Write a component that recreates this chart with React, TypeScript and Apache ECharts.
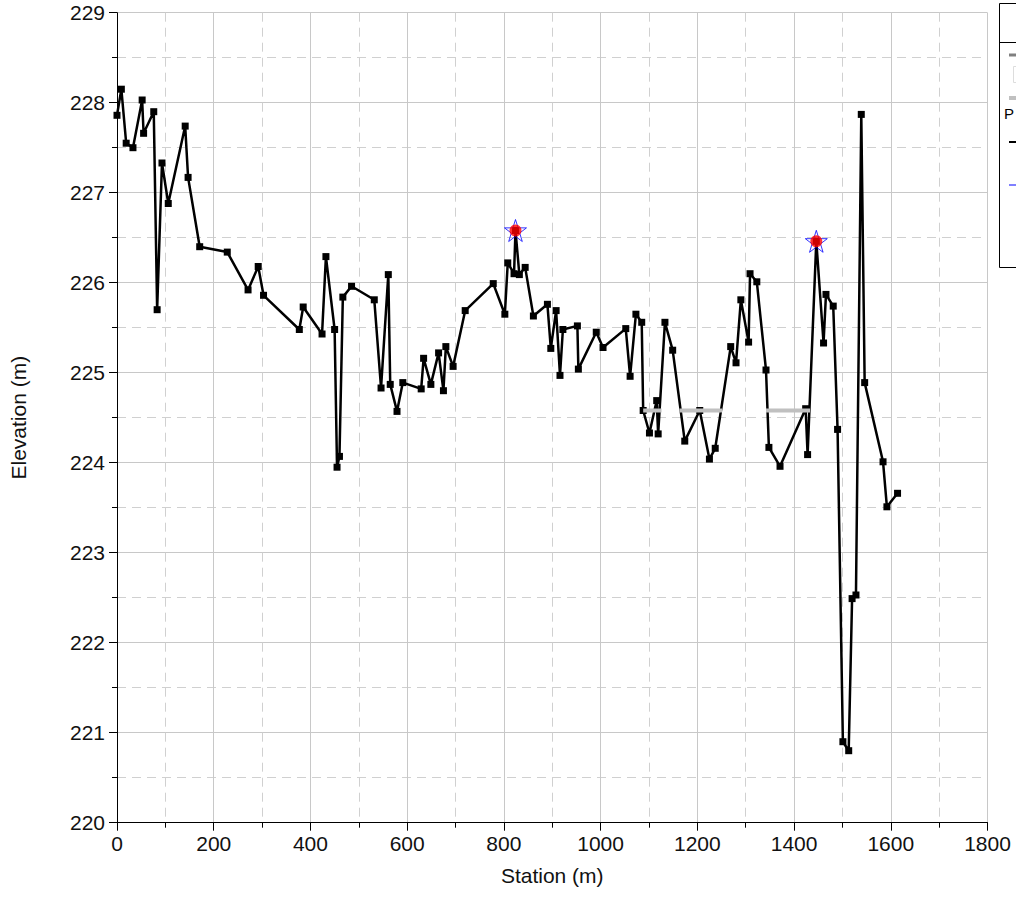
import React, { useEffect, useRef } from "react";
import * as echarts from "echarts";

// Ground profile: station (m) and elevation (m)
const stations: number[] = [
  0, 9, 19, 33, 52, 55, 76, 83, 93, 106, 141, 147, 171, 228, 271, 292, 303, 377, 385, 424,
  432, 450, 455, 460, 467, 485, 532, 546, 561, 565, 579, 591, 629, 634, 649, 665, 675, 680,
  695, 720, 778, 802, 808, 821, 824, 832, 844, 861, 890, 897, 908, 916, 922, 952, 954, 991,
  1005, 1052, 1061, 1073, 1085, 1088, 1101, 1116, 1119, 1133, 1149, 1174, 1205, 1225, 1237,
  1269, 1280, 1290, 1306, 1309, 1323, 1342, 1348, 1371, 1424, 1428, 1446, 1461, 1466, 1481,
  1490, 1501, 1513, 1520, 1528, 1539, 1546, 1584, 1592, 1614,
];
const elevations: number[] = [
  227.86, 228.15, 227.55, 227.5, 228.03, 227.66, 227.9, 225.7, 227.33, 226.88, 227.74, 227.17,
  226.4, 226.34, 225.92, 226.18, 225.86, 225.48, 225.73, 225.43, 226.29, 225.48, 223.95,
  224.07, 225.84, 225.96, 225.81, 224.83, 226.09, 224.87, 224.57, 224.89, 224.82, 225.16,
  224.87, 225.22, 224.8, 225.29, 225.07, 225.69, 225.99, 225.65, 226.22, 226.1, 226.58,
  226.09, 226.17, 225.63, 225.76, 225.27, 225.69, 224.97, 225.48, 225.52, 225.04, 225.45,
  225.28, 225.49, 224.96, 225.65, 225.56, 224.58, 224.33, 224.69, 224.32, 225.56, 225.25,
  224.24, 224.58, 224.04, 224.16, 225.29, 225.11, 225.81, 225.34, 226.1, 226.01, 225.03,
  224.17, 223.96, 224.6, 224.09, 226.46, 225.33, 225.87, 225.74, 224.37, 220.9, 220.8,
  222.49, 222.53, 227.87, 224.89, 224.01, 223.51, 223.66,
];

// Level reaches drawn in light gray
const reachStart: number[] = [1088, 1163, 1342];
const reachEnd: number[] = [1126, 1251, 1433];
const reachElevation = 224.58;

// Highlighted high points
const peakStations: number[] = [824, 1446];
const peakElevations: number[] = [226.58, 226.46];

// Axis ranges and ticks
const xMin = 0;
const xMax = 1800;
const xStep = 200;
const yMin = 220;
const yMax = 229;
const yStep = 1;

const FONT = "'Liberation Sans', Arial, sans-serif";
const FS = 21;
const STAR =
  "path://M50,0 L61.8,36.2 L100,36.2 L69.1,58.6 L80.9,95.1 L50,72.7 L19.1,95.1 L30.9,58.6 L0,36.2 L38.2,36.2 Z";

export default function App() {
  const ref = useRef<HTMLDivElement>(null);

  useEffect(() => {
    if (!ref.current) return;
    const chart = echarts.init(ref.current, null, { renderer: "svg" });

    const ground = stations.map((s, i) => [s, elevations[i]]);
    const peaks = peakStations.map((s, i) => [s, peakElevations[i]]);
    const reaches = reachStart.map((s, i) => [s, reachEnd[i], reachElevation]);

    const gridLine = { color: "#c8c8c8", width: 1 };
    const dashLine = { color: "#d0d0d0", width: 1, type: [9, 6] };
    const plain = (v: number) => String(v);

    const axisCommon = {
      type: "value",
      nameLocation: "middle",
      nameTextStyle: { color: "#111", fontSize: FS, fontFamily: FONT },
      axisLine: { show: true, onZero: false, lineStyle: { color: "#000", width: 1 } },
      axisTick: { show: true, length: 8, lineStyle: { color: "#000" } },
      minorTick: { show: true, splitNumber: 2, length: 5, lineStyle: { color: "#000" } },
      splitLine: { show: true, lineStyle: gridLine },
      minorSplitLine: { show: true, lineStyle: dashLine },
    };

    chart.setOption({
      animation: false,
      backgroundColor: "#ffffff",
      textStyle: { fontFamily: FONT },
      grid: { left: 116.5, top: 12.7, width: 871, height: 810, containLabel: false },
      xAxis: {
        ...axisCommon,
        min: xMin,
        max: xMax,
        interval: xStep,
        name: "Station (m)",
        nameGap: 42,
        axisLabel: { color: "#111", fontSize: FS, margin: 10, fontFamily: FONT, formatter: plain },
      },
      yAxis: {
        ...axisCommon,
        min: yMin,
        max: yMax,
        interval: yStep,
        name: "Elevation (m)",
        nameGap: 88,
        axisLabel: { color: "#111", fontSize: FS, margin: 12, fontFamily: FONT, formatter: plain },
      },
      series: [
        {
          type: "line",
          name: "ground",
          data: ground,
          symbol: "rect",
          symbolSize: 7,
          showAllSymbol: true,
          itemStyle: { color: "#000" },
          lineStyle: { color: "#000", width: 2.5 },
          z: 4,
          silent: true,
        },
        {
          type: "custom",
          name: "reaches",
          data: reaches,
          encode: { x: [0, 1], y: 2 },
          renderItem: (_params: any, api: any) => {
            const a = api.coord([api.value(0), api.value(2)]);
            const b = api.coord([api.value(1), api.value(2)]);
            return {
              type: "line",
              shape: { x1: a[0], y1: a[1], x2: b[0], y2: b[1] },
              style: { stroke: "#c0c0c0", lineWidth: 4 },
            };
          },
          z: 5,
          silent: true,
        },
        {
          type: "scatter",
          data: peaks,
          symbol: STAR,
          symbolSize: 22,
          itemStyle: { color: "rgba(0,0,0,0)", borderColor: "#0000ff", borderWidth: 1 },
          z: 6,
          silent: true,
        },
        {
          type: "scatter",
          data: peaks,
          symbol: "circle",
          symbolSize: 12,
          itemStyle: { color: "#ff0000" },
          z: 7,
          silent: true,
        },
      ],
      graphic: [
        {
          type: "rect",
          shape: { x: 999.5, y: 3.5, width: 60, height: 264 },
          style: { fill: "#ffffff", stroke: "#000", lineWidth: 1 },
        },
        {
          type: "line",
          shape: { x1: 999.5, y1: 42.5, x2: 1060, y2: 42.5 },
          style: { stroke: "#000", lineWidth: 1 },
        },
        {
          type: "line",
          shape: { x1: 1009, y1: 55, x2: 1040, y2: 55 },
          style: { stroke: "#808080", lineWidth: 3 },
        },
        {
          type: "rect",
          shape: { x: 1013.5, y: 66.5, width: 20, height: 16 },
          style: { fill: "#ffffff", stroke: "#dddddd", lineWidth: 1 },
        },
        {
          type: "line",
          shape: { x1: 1009, y1: 98, x2: 1040, y2: 98 },
          style: { stroke: "#c0c0c0", lineWidth: 4 },
        },
        {
          type: "text",
          x: 1004,
          y: 113,
          style: {
            text: "P",
            fill: "#000",
            font: `15px ${FONT}`,
            textVerticalAlign: "middle",
          },
        },
        {
          type: "line",
          shape: { x1: 1009, y1: 142, x2: 1040, y2: 142 },
          style: { stroke: "#000", lineWidth: 2 },
        },
        {
          type: "line",
          shape: { x1: 1009, y1: 185, x2: 1040, y2: 185 },
          style: { stroke: "#0000ff", lineWidth: 1 },
        },
      ],
    });

    return () => chart.dispose();
  }, []);

  return (
    <div
      ref={ref}
      style={{ position: "absolute", left: 0, top: 0, width: 1016, height: 903, overflow: "hidden" }}
    />
  );
}
